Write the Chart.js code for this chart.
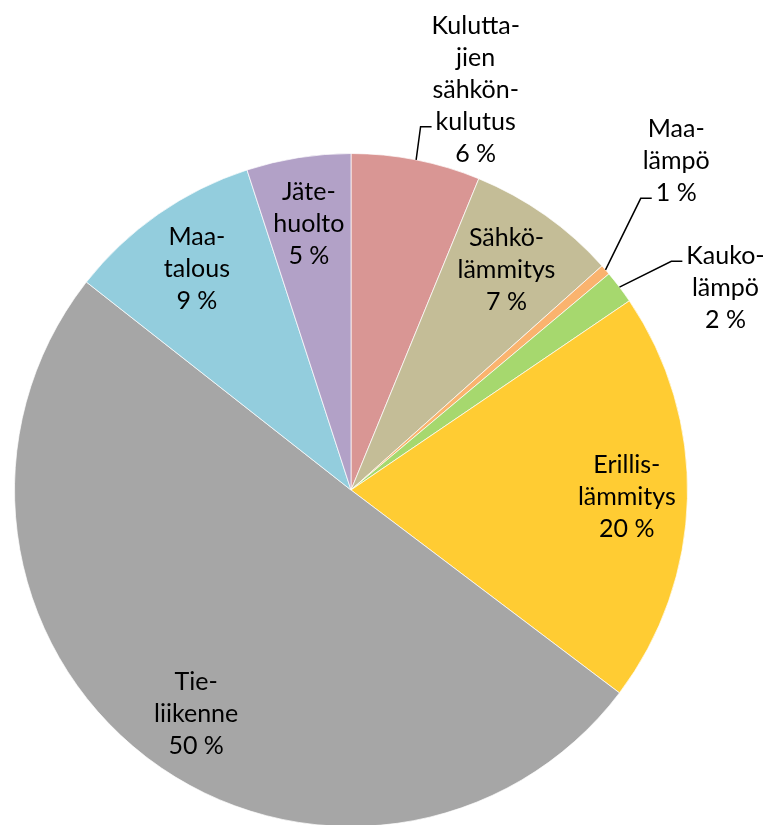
<!DOCTYPE html>
<html>
<head>
<meta charset="utf-8">
<script src="https://cdn.jsdelivr.net/npm/chart.js@4.4.0/dist/chart.umd.min.js"></script>
<style>
  html, body { margin: 0; padding: 0; background: #fff; overflow: hidden; }
  #wrap { width: 768px; height: 830px; }
</style>
</head>
<body>
<div id="wrap"><canvas id="pie"></canvas></div>
<script>
// data, clockwise from 12 o'clock
const categories = ['Kuluttajien sähkönkulutus', 'Sähkölämmitys', 'Maalämpö', 'Kaukolämpö',
                    'Erillislämmitys', 'Tieliikenne', 'Maatalous', 'Jätehuolto'];
const shares = [6.2, 7.2, 0.5, 1.6, 19.8, 50.3, 9.4, 5.0];
const shareLabels = ['6 %', '7 %', '1 %', '2 %', '20 %', '50 %', '9 %', '5 %'];
const labelRows = [
  ['Kulutta-', 'jien', 'sähkön-', 'kulutus'],
  ['Sähkö-', 'lämmitys'],
  ['Maa-', 'lämpö'],
  ['Kauko-', 'lämpö'],
  ['Erillis-', 'lämmitys'],
  ['Tie-', 'liikenne'],
  ['Maa-', 'talous'],
  ['Jäte-', 'huolto']
];
const colors = ['#D99694', '#C4BD97', '#FAB36E', '#A6D86E', '#FFCC33', '#A6A6A6', '#93CDDD', '#B2A1C7'];

// where the labels go: inside ones at a fraction of the radius on the mid angle,
// outside ones at (dist, angle from top) with a leader line to one of their rows
const labelPlace = [
  { out: true, dist: 1.246, deg: 17.3, row: 3 },
  { f: 0.80 },
  { out: true, dist: 1.374, deg: 44.7, row: 2 },
  { out: true, dist: 1.264, deg: 61.7, row: 0 },
  { f: 0.82 },
  { f: 0.81, dDeg: -3 },
  { f: 0.80 },
  { f: 0.80 }
];

const sliceLabels = {
  id: 'sliceLabels',
  afterDatasetsDraw(chart) {
    const { ctx } = chart;
    const meta = chart.getDatasetMeta(0);
    const lineH = 32;
    ctx.save();
    ctx.font = '25px Lato';
    ctx.fillStyle = '#000';
    ctx.textAlign = 'center';
    ctx.textBaseline = 'middle';
    meta.data.forEach((arc, i) => {
      const p = arc.getProps(['x', 'y', 'startAngle', 'endAngle', 'outerRadius'], true);
      const rows = labelRows[i].concat([shareLabels[i]]);
      const pl = labelPlace[i];
      let cx, cy;
      if (pl.out) {
        const a = (pl.deg - 90) * Math.PI / 180;
        cx = p.x + Math.cos(a) * p.outerRadius * pl.dist;
        cy = p.y + Math.sin(a) * p.outerRadius * pl.dist;
      } else {
        const a = (p.startAngle + p.endAngle) / 2 + (pl.dDeg || 0) * Math.PI / 180;
        cx = p.x + Math.cos(a) * p.outerRadius * pl.f;
        cy = p.y + Math.sin(a) * p.outerRadius * pl.f;
      }
      const top = cy - (rows.length - 1) * lineH / 2;
      rows.forEach((t, k) => ctx.fillText(t, cx, top + k * lineH));

      if (pl.out) {
        const mid = (p.startAngle + p.endAngle) / 2;
        const sx = p.x + Math.cos(mid) * p.outerRadius;
        const sy = p.y + Math.sin(mid) * p.outerRadius;
        const w = ctx.measureText(rows[pl.row]).width;
        const ax = cx - w / 2 - 4;
        const ay = top + pl.row * lineH + 5;
        ctx.beginPath();
        ctx.moveTo(sx, sy);
        ctx.lineTo(ax - 11, ay);
        ctx.lineTo(ax, ay);
        ctx.strokeStyle = '#000';
        ctx.lineWidth = 1.5;
        ctx.stroke();
      }
    });
    ctx.restore();
  }
};

new Chart(document.getElementById('pie'), {
  type: 'pie',
  data: {
    labels: categories,
    datasets: [{
      data: shares,
      backgroundColor: colors,
      borderColor: 'rgba(255,255,255,0.7)',
      borderWidth: 1
    }]
  },
  options: {
    responsive: true,
    maintainAspectRatio: false,
    animation: false,
    layout: { padding: { left: 14, right: 80, top: 153, bottom: 3 } },
    plugins: {
      legend: { display: false },
      tooltip: { enabled: false }
    }
  },
  plugins: [sliceLabels]
});
</script>
</body>
</html>
